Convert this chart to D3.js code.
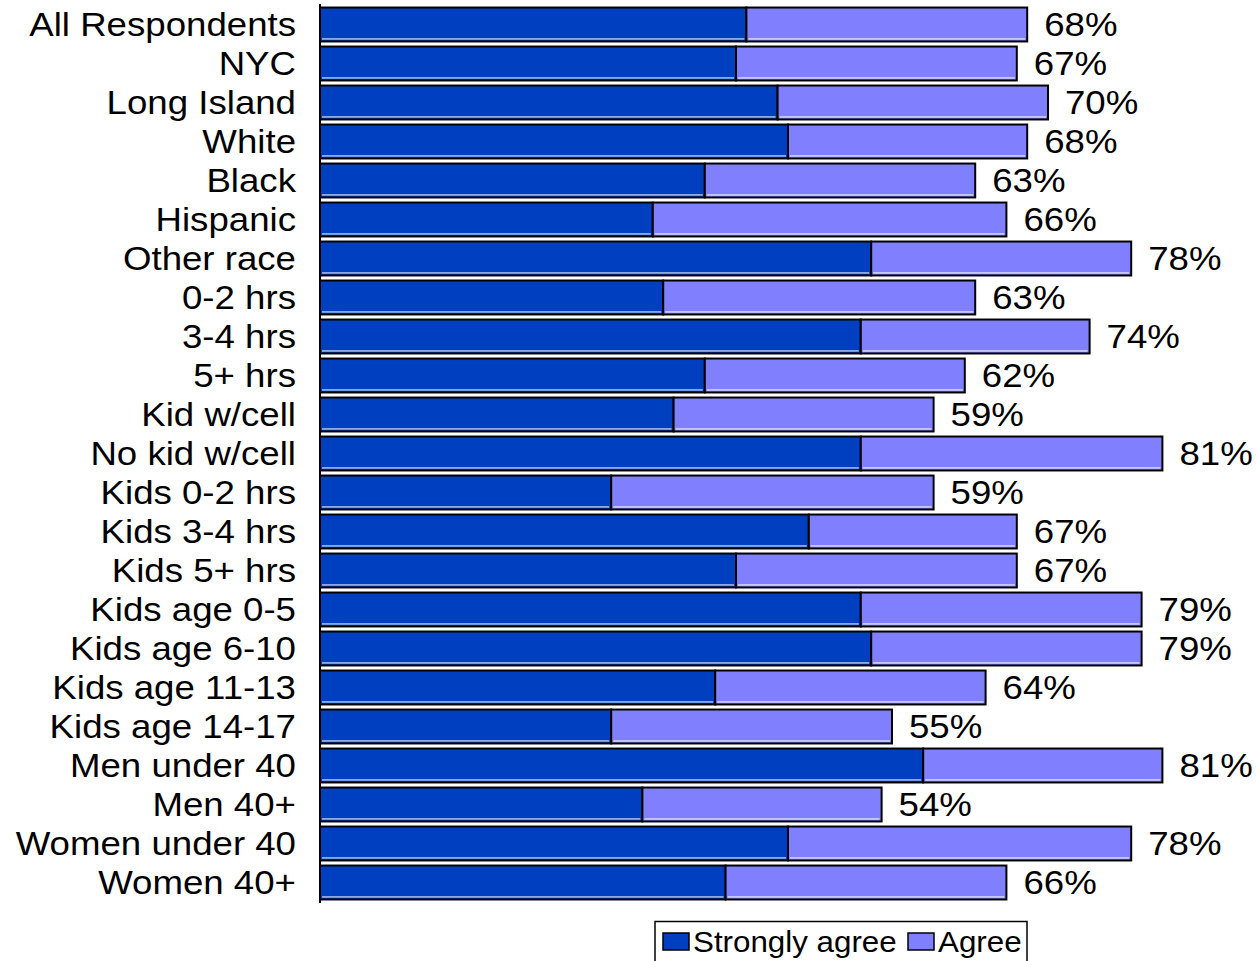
<!DOCTYPE html>
<html><head><meta charset="utf-8">
<script src="https://cdn.jsdelivr.net/npm/d3@7"></script>
<style>body{margin:0;background:#fff;} svg{display:block;font-family:"Liberation Sans",Arial,sans-serif;}</style>
</head><body>
<svg id="c" width="1257" height="961"></svg>
<script>
const categories = ["All Respondents","NYC","Long Island","White","Black","Hispanic","Other race","0-2 hrs","3-4 hrs","5+ hrs","Kid w/cell","No kid w/cell","Kids 0-2 hrs","Kids 3-4 hrs","Kids 5+ hrs","Kids age 0-5","Kids age 6-10","Kids age 11-13","Kids age 14-17","Men under 40","Men 40+","Women under 40","Women 40+"];
const totals = [68,67,70,68,63,66,78,63,74,62,59,81,59,67,67,79,79,64,55,81,54,78,66];
const stronglyAgree = [41,40,44,45,37,32,53,33,52,37,34,52,28,47,40,52,53,38,28,58,31,45,39];
const agree = totals.map((t,i)=>t-stronglyAgree[i]);
const seriesNames = ["Strongly agree","Agree"];
const colors = ["#0040C0","#8080FF"];

const svg = d3.select("#c");
const x = d3.scaleLinear().domain([0,81]).range([320,1162.4]);
const y = d3.scaleBand().domain(categories).range([5,902]).paddingInner(0.13).paddingOuter(0.065);
const SX = 1.11;

const rows = categories.map((c,i)=>({c, s:stronglyAgree[i], a:agree[i], t:totals[i]}));
const g = svg.append("g");
rows.forEach(r=>{
  const segs = [[0,r.s,colors[0]],[r.s,r.s+r.a,colors[1]]];
  segs.forEach(([a,b,col])=>{
    g.append("rect").attr("x",x(a)).attr("y",y(r.c)).attr("width",x(b)-x(a)).attr("height",y.bandwidth())
      .attr("fill",col).attr("stroke","#000").attr("stroke-width",2);
    g.append("line").attr("x1",x(a)+2).attr("x2",x(b)-2).attr("y1",y(r.c)+y.bandwidth()-2.5).attr("y2",y(r.c)+y.bandwidth()-2.5)
      .attr("stroke","#fff").attr("stroke-width",1);
  });
  g.append("text").attr("transform",`translate(${x(r.t)+17},${y(r.c)+y.bandwidth()/2}) scale(${SX},1)`).attr("dy","0.36em")
    .attr("font-size",33).attr("fill","#000").text(r.t+"%");
});

const yAxis = d3.axisLeft(y).tickSize(0).tickPadding(0);
const ag = svg.append("g").attr("transform","translate(320,0)").call(yAxis);
ag.select(".domain").attr("stroke","#000").attr("stroke-width",2).attr("d","M0,4V903");
ag.selectAll("text").attr("font-size",33).attr("fill","#000").attr("font-family","Liberation Sans, Arial, sans-serif")
  .attr("x",null).attr("dy","0.36em").attr("transform",`translate(-24,0) scale(${SX},1)`);

// legend
const lg = svg.append("g");
lg.append("rect").attr("x",655).attr("y",921.5).attr("width",372).attr("height",45).attr("fill","#fff").attr("stroke","#000").attr("stroke-width",1.5);
const items = [{n:seriesNames[0],c:colors[0],x:663},{n:seriesNames[1],c:colors[1],x:908}];
items.forEach(it=>{
  lg.append("rect").attr("x",it.x).attr("y",933).attr("width",26).attr("height",17).attr("fill",it.c).attr("stroke","#000").attr("stroke-width",1.5);
  lg.append("text").attr("transform",`translate(${it.x+30},942) scale(1.08,1)`).attr("dy","0.36em").attr("font-size",29).attr("fill","#000").text(it.n);
});
</script>
</body></html>
